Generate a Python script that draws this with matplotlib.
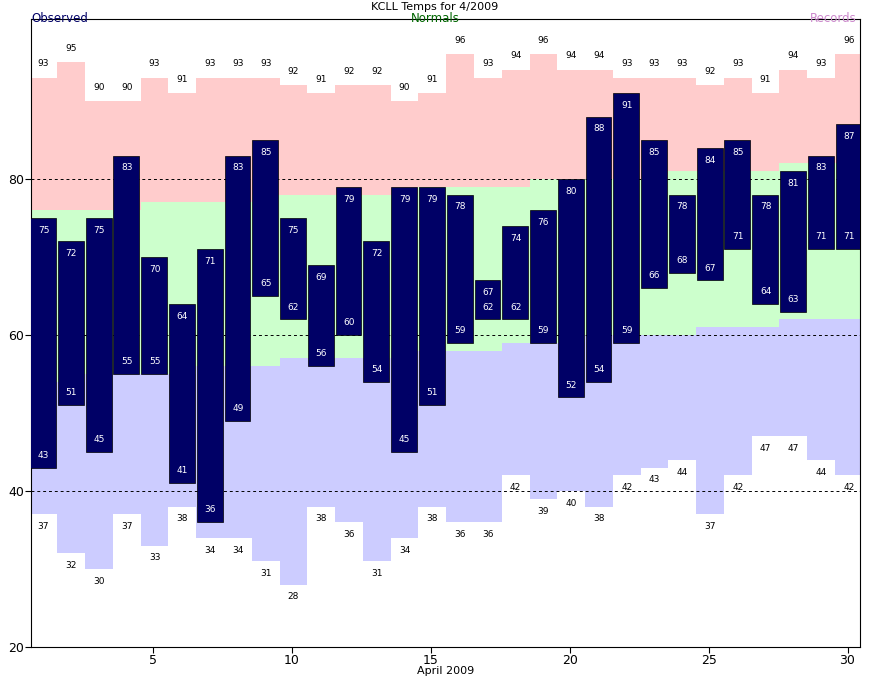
import numpy as np
import matplotlib
matplotlib.use("Agg")
import matplotlib.pyplot as plt

days = np.arange(1, 31)
rec_hi = [93, 95, 90, 90, 93, 91, 93, 93, 93, 92, 91, 92, 92, 90, 91,
          96, 93, 94, 96, 94, 94, 93, 93, 93, 92, 93, 91, 94, 93, 96]
rec_lo = [37, 32, 30, 37, 33, 38, 34, 34, 31, 28, 38, 36, 31, 34, 38,
          36, 36, 42, 39, 40, 38, 42, 43, 44, 37, 42, 47, 47, 44, 42]
obs_hi = [75, 72, 75, 83, 70, 64, 71, 83, 85, 75, 69, 79, 72, 79, 79,
          78, 67, 74, 76, 80, 88, 91, 85, 78, 84, 85, 78, 81, 83, 87]
obs_lo = [43, 51, 45, 55, 55, 41, 36, 49, 65, 62, 56, 60, 54, 45, 51,
          59, 62, 62, 59, 52, 54, 59, 66, 68, 67, 71, 64, 63, 71, 71]
norm_hi = [76, 76, 76, 76, 77, 77, 77, 77, 78, 78, 78, 78, 78, 78, 79,
           79, 79, 79, 80, 80, 80, 80, 80, 81, 81, 81, 81, 82, 82, 82]
norm_lo = [54, 54, 55, 55, 55, 55, 56, 56, 56, 57, 57, 57, 57, 58, 58,
           58, 58, 59, 59, 59, 60, 60, 60, 60, 61, 61, 61, 62, 62, 62]

NAVY = "#000066"
fig = plt.figure(figsize=(8.7, 6.76), dpi=100)
ax = fig.add_axes([31 / 870, 1 - 647 / 676, (860 - 31) / 870, (647 - 19) / 676])

left = days - 0.45
edges = np.append(left, left[-1] + 1)

def band(lo, hi, color):
    ax.stairs(hi, edges, baseline=lo, fill=True, color=color, lw=0, zorder=1)

band(np.array(norm_hi), np.array(rec_hi), "#ffcccc")
band(np.array(norm_lo), np.array(norm_hi), "#ccffcc")
band(np.array(rec_lo), np.array(norm_lo), "#ccccff")

for y in (40, 60, 80):
    ax.axhline(y, color="black", ls=(0, (3, 3)), lw=0.7, zorder=2)

ax.bar(left + 0.02, np.array(obs_hi) - np.array(obs_lo), bottom=obs_lo, width=0.93,
       align="edge", color=NAVY, edgecolor="black", lw=0.5, zorder=3)

for d, rh, rl, oh, ol in zip(left, rec_hi, rec_lo, obs_hi, obs_lo):
    c = d + 0.5
    ax.text(c, rh + 1.2, str(rh), ha="center", va="bottom", fontsize=6.5, zorder=4)
    ax.text(c, rl - 1.0, str(rl), ha="center", va="top", fontsize=6.5, zorder=4)
    ax.text(c, oh - 1.0, str(oh), ha="center", va="top", fontsize=6.5, color="white", zorder=4)
    ax.text(c, ol + 1.0, str(ol), ha="center", va="bottom", fontsize=6.5, color="white", zorder=4)

ax.set_xlim(0.6, 30.45)
ax.set_ylim(20, 100.5)
ax.set_xticks([5, 10, 15, 20, 25, 30])
ax.set_yticks([20, 40, 60, 80])
ax.tick_params(labelsize=9, length=4, pad=1)
ax.set_xlabel("April 2009", fontsize=8, labelpad=-1)

fig.text(0.5, 1 - 7 / 676, "KCLL Temps for 4/2009", ha="center", va="center", fontsize=8)
fig.text(0.5, 1 - 19 / 676, "Normals", ha="center", va="center", fontsize=8.5, color="#006600")
fig.text(31 / 870, 1 - 19 / 676, "Observed", ha="left", va="center", fontsize=8.5, color=NAVY)
fig.text(857 / 870, 1 - 19 / 676, "Records", ha="right", va="center", fontsize=8.5, color="#cc88cc")

fig.savefig("out.png", dpi=100)
